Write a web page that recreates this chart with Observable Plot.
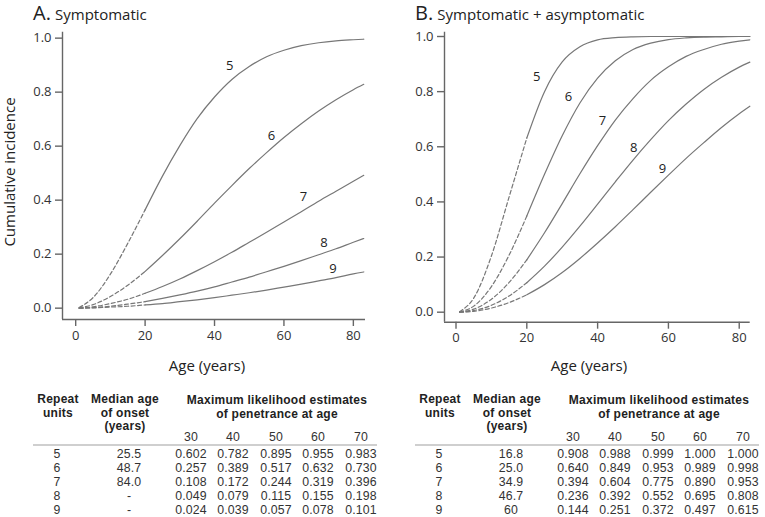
<!DOCTYPE html>
<html><head><meta charset="utf-8">
<script src="https://cdn.jsdelivr.net/npm/d3@7"></script>
<script src="https://cdn.jsdelivr.net/npm/@observablehq/plot@0.6"></script>
<style>
body{margin:0;background:#fff;font-family:"Open Sans",sans-serif;color:#222}
#root{position:relative;width:765px;height:517px;overflow:hidden;background:#fff}
.panel{position:absolute;top:0;width:383px;height:517px}
.panel svg{position:absolute;left:0;top:0;overflow:visible}
.abs{position:absolute;white-space:nowrap}
.c{position:absolute;text-align:center;white-space:nowrap}
.h{font-family:"Liberation Sans",Arial,sans-serif;font-weight:700;font-size:12px;letter-spacing:0.25px;color:#222}
.d{font-family:"Liberation Sans",Arial,sans-serif;font-size:12.3px;letter-spacing:0.15px;color:#333}
.title .big{font-size:20px;font-weight:400}
.title .small{font-size:15px}
</style></head><body><div id="root"></div>
<script>
// ---------- data ----------
const repeatUnits = [5, 6, 7, 8, 9];
const ages = [1, 5, 10, 15, 20, 25, 30, 35, 40, 45, 50, 55, 60, 65, 70, 75, 80, 83];
// Panel A: symptomatic cumulative incidence
const symp5 = [0.002, 0.039, 0.126, 0.240, 0.364, 0.489, 0.602, 0.702, 0.782, 0.847, 0.895, 0.931, 0.955, 0.972, 0.983, 0.990, 0.994, 0.996];
const symp6 = [0.001, 0.013, 0.043, 0.085, 0.136, 0.195, 0.257, 0.322, 0.389, 0.454, 0.517, 0.576, 0.632, 0.683, 0.730, 0.772, 0.809, 0.829];
const symp7 = [0.000, 0.005, 0.017, 0.033, 0.055, 0.080, 0.108, 0.139, 0.172, 0.207, 0.244, 0.281, 0.319, 0.357, 0.396, 0.433, 0.470, 0.492];
const symp8 = [0.000, 0.002, 0.007, 0.015, 0.024, 0.036, 0.049, 0.063, 0.079, 0.097, 0.115, 0.135, 0.155, 0.176, 0.198, 0.220, 0.244, 0.258];
const symp9 = [0.000, 0.001, 0.004, 0.007, 0.012, 0.017, 0.024, 0.031, 0.039, 0.048, 0.057, 0.067, 0.078, 0.089, 0.101, 0.113, 0.127, 0.134];
// Panel B: symptomatic + asymptomatic
const all5 = [0.002, 0.051, 0.204, 0.418, 0.632, 0.800, 0.908, 0.963, 0.988, 0.996, 0.999, 1.000, 1.000, 1.000, 1.000, 1.000, 1.000, 1.000];
const all6 = [0.001, 0.022, 0.093, 0.207, 0.349, 0.500, 0.640, 0.759, 0.849, 0.912, 0.953, 0.976, 0.989, 0.995, 0.998, 0.999, 1.000, 1.000];
const all7 = [0.000, 0.011, 0.047, 0.108, 0.190, 0.288, 0.394, 0.502, 0.604, 0.697, 0.775, 0.841, 0.890, 0.928, 0.953, 0.972, 0.983, 0.988];
const all8 = [0.000, 0.006, 0.025, 0.059, 0.107, 0.167, 0.236, 0.312, 0.392, 0.473, 0.552, 0.626, 0.695, 0.755, 0.808, 0.852, 0.889, 0.907];
const all9 = [0.000, 0.003, 0.015, 0.035, 0.063, 0.100, 0.144, 0.195, 0.251, 0.310, 0.372, 0.435, 0.497, 0.558, 0.615, 0.670, 0.720, 0.747];
// curve label positions (data units)
const labelAgeA = [44.4, 56.4, 65.6, 71.5, 74.1];
const labelValA = [0.899, 0.640, 0.411, 0.243, 0.146];
const labelAgeB = [22.8, 31.8, 41.4, 50.2, 58.3];
const labelValB = [0.852, 0.780, 0.693, 0.598, 0.519];
// axis ticks
const xTicks = [0, 20, 40, 60, 80];
const yTicks = [0, 0.2, 0.4, 0.6, 0.8, 1.0];
// tables
const penAges = ["30", "40", "50", "60", "70"];
const medianA = ["25.5", "48.7", "84.0", "-", "-"];
const penA5 = ["0.602", "0.782", "0.895", "0.955", "0.983"];
const penA6 = ["0.257", "0.389", "0.517", "0.632", "0.730"];
const penA7 = ["0.108", "0.172", "0.244", "0.319", "0.396"];
const penA8 = ["0.049", "0.079", "0.115", "0.155", "0.198"];
const penA9 = ["0.024", "0.039", "0.057", "0.078", "0.101"];
const medianB = ["16.8", "25.0", "34.9", "46.7", "60"];
const penB5 = ["0.908", "0.988", "0.999", "1.000", "1.000"];
const penB6 = ["0.640", "0.849", "0.953", "0.989", "0.998"];
const penB7 = ["0.394", "0.604", "0.775", "0.890", "0.953"];
const penB8 = ["0.236", "0.392", "0.552", "0.695", "0.808"];
const penB9 = ["0.144", "0.251", "0.372", "0.497", "0.615"];

// ---------- drawing ----------
const root = document.getElementById("root");

function makePanel(cfg) {
  const div = document.createElement("div");
  div.className = "panel";
  div.style.left = cfg.left + "px";
  root.appendChild(div);

  const rows = [];
  cfg.series.forEach((vals, i) => ages.forEach((a, j) => rows.push({rep: repeatUnits[i], age: a, v: vals[j]})));
  const dashed = rows.filter(d => d.age <= 20);
  const solid = rows.filter(d => d.age >= 20);
  const labels = repeatUnits.map((r, i) => ({t: String(r), x: cfg.labAge[i], y: cfg.labVal[i]}));

  const plot = Plot.plot({
    width: 383, height: 380,
    marginLeft: cfg.ml, marginRight: cfg.mr, marginTop: cfg.mt, marginBottom: cfg.mb,
    x: {domain: cfg.xd},
    y: {domain: cfg.yd},
    style: {fontFamily: "Open Sans", fontSize: "13px", color: "#333", background: "transparent", overflow: "visible"},
    marks: [
      Plot.ruleX([cfg.xd[0]], {y1: cfg.yd[0], y2: cfg.yd[1], stroke: "#666", strokeWidth: 1.4}),
      Plot.ruleY([cfg.yd[0]], {x1: cfg.xd[0], x2: cfg.xd[1], stroke: "#666", strokeWidth: 1.4}),
      Plot.axisX({ticks: xTicks, tickSize: 7, tickPadding: 4, label: null, stroke: "#666", strokeWidth: 1.4, fill: "#333"}),
      Plot.axisY({ticks: yTicks, tickSize: 7, tickPadding: 4, tickFormat: d3.format(".1f"), label: null, stroke: "#666", strokeWidth: 1.4, fill: "#333"}),
      Plot.line(dashed, {x: "age", y: "v", z: "rep", stroke: "#777", strokeWidth: 1.2, strokeDasharray: "4,2.5", curve: "monotone-x"}),
      Plot.line(solid, {x: "age", y: "v", z: "rep", stroke: "#777", strokeWidth: 1.2, curve: "monotone-x"}),
      Plot.text(labels, {x: "x", y: "y", text: "t", fontSize: 13, fill: "#222"})
    ]
  });
  div.appendChild(plot);

  // title
  const t = document.createElement("div");
  t.className = "abs title";
  t.style.left = "33px"; t.style.top = "1px"; t.style.lineHeight = "24px";
  t.innerHTML = `<span class="big">${cfg.letter}</span> <span class="small">${cfg.title}</span>`;
  div.appendChild(t);

  // axis labels
  const xl = document.createElement("div");
  xl.className = "c"; xl.style.width = "160px"; xl.style.fontSize = "15px";
  xl.style.left = (cfg.xlabX - 80) + "px"; xl.style.top = (365 - 10) + "px"; xl.style.lineHeight = "20px";
  xl.textContent = "Age (years)";
  div.appendChild(xl);
  if (cfg.ylab) {
    const yl = document.createElement("div");
    yl.className = "c"; yl.style.width = "200px"; yl.style.fontSize = "15px"; yl.style.lineHeight = "20px";
    yl.style.left = (9 - 100) + "px"; yl.style.top = (172 - 10) + "px";
    yl.style.transform = "rotate(-90deg)";
    yl.textContent = "Cumulative incidence";
    div.appendChild(yl);
  }

  // table: each column block is one text element with stacked lines
  const block = (x, yFirst, lines, cls, w, lh) => {
    const e = document.createElement("div");
    e.className = "c " + cls;
    e.style.width = w + "px";
    e.style.left = (x - w / 2) + "px";
    e.style.lineHeight = lh + "px";
    e.style.top = (yFirst - lh / 2) + "px";
    e.innerHTML = lines.join("<br>");
    div.appendChild(e);
  };
  const cols = [57, 129, 191, 233, 276, 318, 361];
  block(58, 400, ["Repeat", "units"], "h", 60, 13.6);
  block(125, 400, ["Median age", "of onset", "(years)"], "h", 80, 13.6);
  block(277, 400, ["Maximum likelihood estimates", "of penetrance at age"], "h", 200, 14);
  penAges.forEach((a, i) => block(cols[i + 2], 437, [a], "d", 40, 13));
  const rule = document.createElement("div");
  rule.className = "abs";
  Object.assign(rule.style, {left: "33px", top: "444px", width: "344px", height: "2px", background: "#cfcfcf"});
  div.appendChild(rule);
  const rowH = 13.9;
  block(cols[0], 455, repeatUnits.map(String), "d", 30, rowH);
  block(cols[1], 455, cfg.median, "d", 50, rowH);
  penAges.forEach((_, k) => block(cols[k + 2], 455, cfg.pens.map(row => row[k]), "d", 40, rowH));
}

makePanel({
  left: 0, letter: "A.", title: "Symptomatic", ylab: true,
  series: [symp5, symp6, symp7, symp8, symp9],
  labAge: labelAgeA, labVal: labelValA,
  ml: 62, mr: 18, mt: 31.7, mb: 61,
  xd: [-3.8, 83.5], yd: [-0.042, 1.022],
  xlabX: 207,
  median: medianA, pens: [penA5, penA6, penA7, penA8, penA9]
});
makePanel({
  left: 382, letter: "B.", title: "Symptomatic + asymptomatic", ylab: false,
  series: [all5, all6, all7, all8, all9],
  labAge: labelAgeB, labVal: labelValB,
  ml: 62, mr: 15.3, mt: 31.7, mb: 58.3,
  xd: [-3.25, 83.1], yd: [-0.0363, 1.0156],
  xlabX: 207,
  median: medianB, pens: [penB5, penB6, penB7, penB8, penB9]
});
</script>
</body></html>
